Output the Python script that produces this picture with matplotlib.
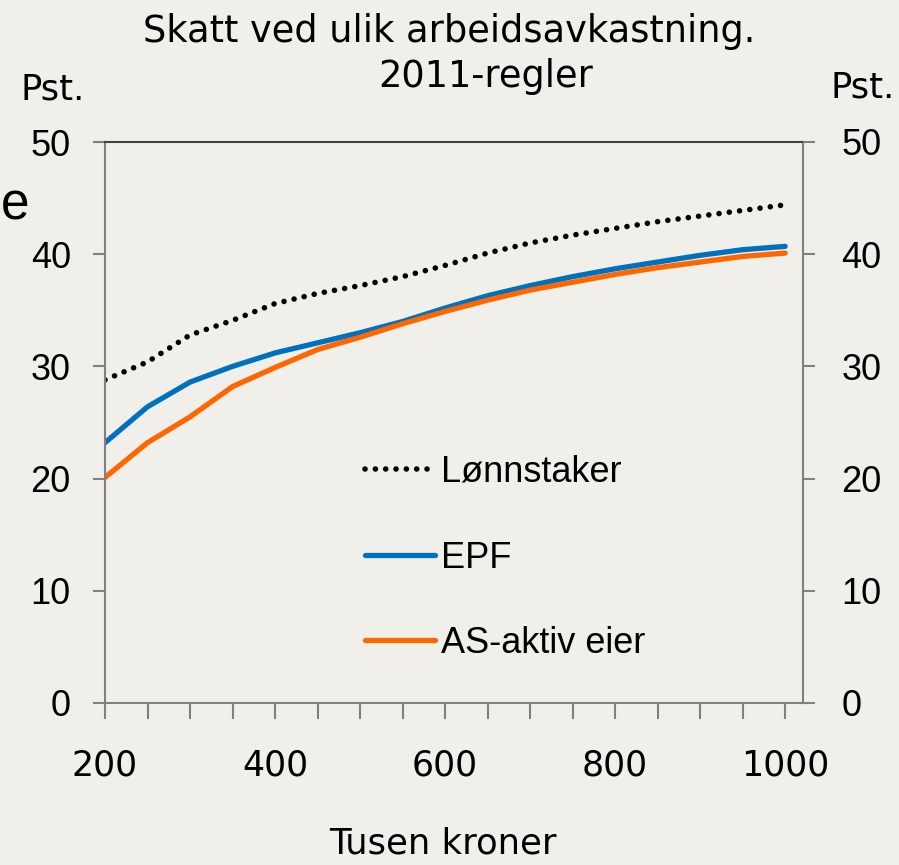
import matplotlib
matplotlib.use('Agg')
import matplotlib.pyplot as plt

# tusen kroner
inntekt = [200, 250, 300, 350, 400, 450, 500, 550, 600, 650, 700, 750, 800, 850, 900, 950, 1000]
# skatt i prosent
lonnstaker = [28.8, 30.4, 32.8, 34.1, 35.6, 36.5, 37.2, 38.0, 39.0, 40.1, 41.0, 41.7, 42.3, 42.9, 43.4, 43.9, 44.4]
epf = [23.2, 26.4, 28.6, 30.0, 31.2, 32.1, 33.0, 34.0, 35.2, 36.3, 37.2, 38.0, 38.7, 39.3, 39.9, 40.4, 40.7]
as_aktiv = [20.1, 23.2, 25.5, 28.2, 29.9, 31.5, 32.6, 33.8, 34.9, 35.9, 36.8, 37.5, 38.2, 38.8, 39.3, 39.8, 40.1]

yticks = [0, 10, 20, 30, 40, 50]
xticklabels = [200, 400, 600, 800, 1000]

bg = '#f0efe9'
grey = '#808080'
plt.rcParams['font.family'] = ['Liberation Sans', 'DejaVu Sans']

W, H = 899, 865
fig = plt.figure(figsize=(W/100, H/100), dpi=100, facecolor=bg)
ax = fig.add_axes([105/W, 1-703/H, (803-105)/W, (703-142)/H], facecolor=bg)

ax.plot(inntekt, lonnstaker, color='black', lw=4, linestyle=(0, (0.01, 1.85)),
        dash_capstyle='round', label='Lønnstaker')
ax.plot(inntekt, epf, color='#0070c0', lw=3.8, solid_capstyle='round', label='EPF')
ax.plot(inntekt, as_aktiv, color='#ff6600', lw=3.8, solid_capstyle='round', label='AS-aktiv eier')

ax.set_xlim(200, 1021)
ax.set_ylim(0, 50)
ax.set_yticks(yticks)
ax.set_xticks(inntekt)
ax.set_xticklabels([str(v) if v in xticklabels else '' for v in inntekt])
ax.tick_params(axis='y', direction='out', length=8.6, width=1.5, color=grey, labelsize=26, pad=16)
ax.tick_params(axis='x', direction='out', length=11.5, width=1.5, color=grey, labelsize=25, pad=21)
for lab in ax.get_xticklabels():
    lab.set_family('DejaVu Sans')

for s in ['left', 'bottom', 'right']:
    ax.spines[s].set_color(grey)
    ax.spines[s].set_linewidth(1.5)
ax.spines['top'].set_color('#404040')
ax.spines['top'].set_linewidth(1.5)

ax2 = ax.twinx()
ax2.set_ylim(0, 50)
ax2.set_yticks(yticks)
ax2.tick_params(axis='y', direction='out', length=8.6, width=1.5, color=grey, labelsize=26, pad=19)
for s in ax2.spines.values():
    s.set_visible(False)

ax.legend(loc='center left', bbox_to_anchor=((365-105)/698, (703-558)/561), frameon=False,
          fontsize=26, handlelength=1.94, handletextpad=0.17, labelspacing=1.4,
          borderpad=0, borderaxespad=0)

fig.text(443/W, 11/H, 'Tusen kroner', ha='center', va='baseline', fontsize=25.5, family='DejaVu Sans')
fig.text(143/W, 1-42/H, 'Skatt ved ulik arbeidsavkastning.', ha='left', va='baseline',
         fontsize=26.5, family='DejaVu Sans')
fig.text(378/W, 1-87/H, '2011-regler', ha='left', va='baseline',
         fontsize=26.5, family='DejaVu Sans')
fig.text(20/W, 1-99/H, 'Pst.', ha='left', va='baseline', fontsize=25.5, family='DejaVu Sans')
fig.text(830/W, 1-97/H, 'Pst.', ha='left', va='baseline', fontsize=25.5, family='DejaVu Sans')
fig.text(0.5/W, 1-220/H, 'e', ha='left', va='baseline', fontsize=37)

fig.savefig('out.png', dpi=100, facecolor=bg)
